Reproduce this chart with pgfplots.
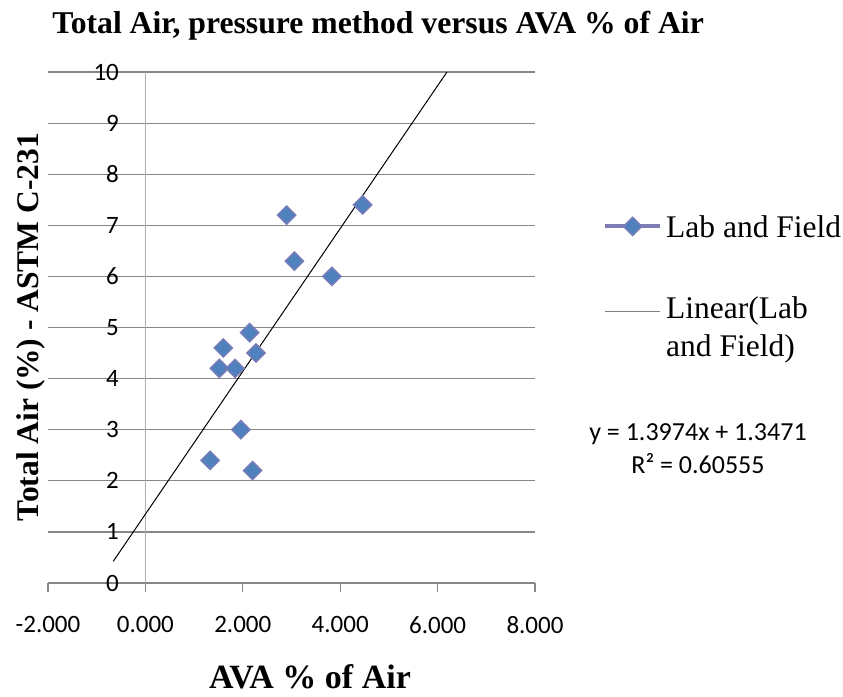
\documentclass[border=0pt]{standalone}
\usepackage{fontspec}
\setmainfont{Liberation Serif}
\newfontfamily\carlito{Carlito}
\usepackage{pgfplots}
\pgfplotsset{compat=1.18}
\definecolor{mfill}{RGB}{79,129,189}
\definecolor{medge}{RGB}{118,124,184}
\definecolor{lline}{RGB}{125,125,178}
\definecolor{gridc}{RGB}{134,134,134}
\definecolor{yaxc}{RGB}{175,175,175}
\definecolor{lgray}{RGB}{128,128,128}

\pgfplotstableread{
x y
4.46 7.40
2.90 7.20
3.06 6.30
3.83 6.00
2.14 4.90
1.60 4.60
2.27 4.50
1.52 4.20
1.84 4.20
1.96 3.00
1.33 2.40
2.20 2.20
}\datatable

\begin{document}
\begin{tikzpicture}
\useasboundingbox (0,0) rectangle (843pt,-696pt);
\begin{axis}[
  at={(48pt,-583pt)}, anchor=south west,
  scale only axis, width=487pt, height=511pt,
  xmin=-2, xmax=8, ymin=0, ymax=10,
  axis x line*=bottom, axis y line*=middle,
  hide obscured x ticks=false, hide obscured y ticks=false,
  x axis line style={draw=gridc, line width=1.2pt},
  y axis line style={draw=yaxc, line width=1.2pt},
  xtick={-2,0,2,4,6,8}, ytick={0,1,...,10},
  ymajorgrids, grid style={draw=gridc, line width=1.2pt},
  tick align=outside, major tick length=9pt,
  xtick style={draw=gridc, line width=1.2pt},
  ytick style={draw=none},
  /pgf/number format/assume math mode=true,
  tick label style={font=\fontsize{25}{30}\selectfont\carlito},
  xticklabel style={/pgf/number format/fixed, /pgf/number format/fixed zerofill, /pgf/number format/precision=3, yshift=-21pt},
  yticklabel style={anchor=east, xshift=-14pt},
  title={Total Air, pressure method versus AVA \% of Air},
  title style={font=\bfseries\fontsize{31.7}{38}\selectfont, at={(axis description cs:0.678,1.0645)}, anchor=base},
  xlabel={AVA \% of Air},
  xlabel style={font=\bfseries\fontsize{34}{40}\selectfont, at={(axis description cs:0.538,-0.2074)}, anchor=base},
  ylabel={Total Air (\%) - ASTM C-231},
  ylabel style={font=\bfseries\fontsize{31.5}{38}\selectfont, at={(axis description cs:-0.0205,0.501)}, anchor=base, rotate=0},
  legend image code/.code={\draw[mark repeat=2,mark phase=2,#1] plot coordinates {(0pt,0pt) (27.5pt,0pt) (55pt,0pt)};},
  legend cell align=left,
  legend style={at={(axis description cs:1.1396,0.7197)}, anchor=north west, draw=none, fill=none,
    inner sep=0pt, nodes={inner sep=0pt, text depth=0pt}, column sep=4pt, row sep=55pt,
    font=\fontsize{31.5}{38}\selectfont, cells={anchor=west}},
]
\addplot[only marks, mark=square*, mark size=6.4pt,
  mark options={rotate=45, fill=mfill, draw=medge, line width=1.5pt}, forget plot] table[x=x,y=y] {\datatable};
\addplot[black, line width=1pt, forget plot] coordinates {(-0.66,0.4248) (6.1921,10)};
\addlegendimage{lline, line width=4pt, mark=square*, mark size=6.4pt, mark options={rotate=45, fill=mfill, draw=medge, line width=1.5pt, solid}}
\addlegendentry{Lab and Field}
\addlegendimage{lgray, line width=1.2pt}
\addlegendentry[yshift=-3pt]{\begin{tabular}{@{}l@{}}Linear(Lab\\and Field)\end{tabular}}
\end{axis}
\node[font=\fontsize{26}{31}\selectfont\carlito, anchor=base] at (698pt,-440pt) {y = 1.3974x + 1.3471};
\node[font=\fontsize{26}{31}\selectfont\carlito, anchor=base] at (698pt,-473pt) {R² = 0.60555};
\end{tikzpicture}
\end{document}
